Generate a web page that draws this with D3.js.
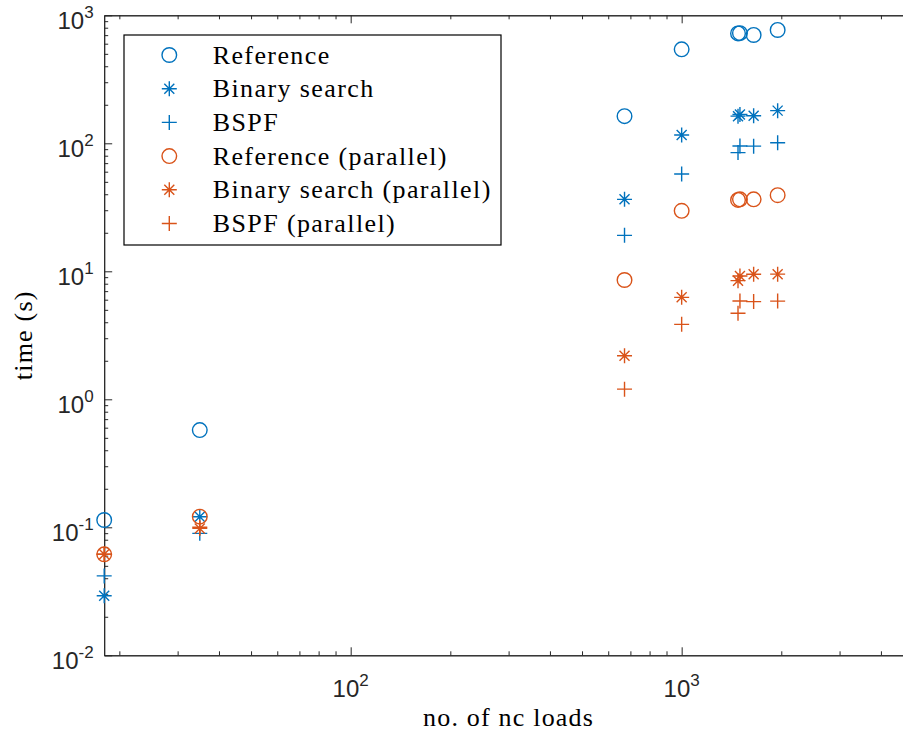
<!DOCTYPE html>
<html>
<head>
<meta charset="utf-8">
<script src="https://cdn.jsdelivr.net/npm/d3@7"></script>
<style>
  body { margin: 0; background: white; }
  svg { display: block; }
</style>
</head>
<body>
<script>

// no. of nc loads for each run
const loads = [18, 35, 672, 1000, 1480, 1500, 1650, 1950];

// timings in seconds
const reference      = [0.114, 0.575, 163, 542, 722, 725, 702, 768];
const binarySearch   = [0.0292, 0.121, 36.5, 116, 163, 168, 164, 180];
const bspf           = [0.0417, 0.0897, 19.1, 57.5, 84.6, 95.3, 95, 101];
const referencePar   = [0.0615, 0.121, 8.55, 29.7, 36.1, 36.5, 36.5, 39.3];
const binarySearchPar = [0.0615, 0.098, 2.19, 6.26, 8.45, 9.2, 9.48, 9.5];
const bspfPar        = [0.0615, 0.1, 1.2, 3.85, 4.7, 5.86, 5.8, 5.85];

const seriesNames = ["Reference", "Binary search", "BSPF",
  "Reference (parallel)", "Binary search (parallel)", "BSPF (parallel)"];

const xTicks = [1e2, 1e3];
const xExp = ["2", "3"];
const yTicks = [1e-2, 1e-1, 1e0, 1e1, 1e2, 1e3];
const yExp = ["-2", "-1", "0", "1", "2", "3"];

const blue = "#0072BD", orange = "#D95319";
const series = [
  { name: seriesNames[0], values: reference, marker: "o", color: blue },
  { name: seriesNames[1], values: binarySearch, marker: "*", color: blue },
  { name: seriesNames[2], values: bspf, marker: "+", color: blue },
  { name: seriesNames[3], values: referencePar, marker: "o", color: orange },
  { name: seriesNames[4], values: binarySearchPar, marker: "*", color: orange },
  { name: seriesNames[5], values: bspfPar, marker: "+", color: orange }
];

const svg = d3.select("body").append("svg")
  .attr("width", 903)
  .attr("height", 735);

const plotLeft = 104.2, plotRight = 913, plotTop = 15.3, plotBottom = 655.3;

const x = d3.scaleLog().domain([18, 5000]).range([plotLeft, plotRight]);
const y = d3.scaleLog().domain([1e-2, 1e3]).range([plotBottom, plotTop]);

// minor tick values
const xMinor = [];
[10, 100, 1000].forEach(d => { for (let k = 2; k <= 9; k++) if (d * k >= 18 && d * k <= 5000) xMinor.push(d * k); });
const yMinor = [];
[1e-2, 1e-1, 1, 10, 100].forEach(d => { for (let k = 2; k <= 9; k++) yMinor.push(d * k); });

const axisColor = "#262626";

function styleAxis(g) {
  g.selectAll("path, line").attr("stroke", axisColor).attr("stroke-width", 1);
  g.selectAll("text").remove();
}

svg.append("g").attr("transform", `translate(0,${plotBottom})`)
  .call(d3.axisBottom(x).tickValues(xTicks).tickSizeInner(-8).tickSizeOuter(0).tickFormat(""))
  .call(styleAxis);
svg.append("g").attr("transform", `translate(0,${plotBottom})`)
  .call(d3.axisBottom(x).tickValues(xMinor).tickSizeInner(-4).tickSizeOuter(0).tickFormat(""))
  .call(styleAxis);
svg.append("g").attr("transform", `translate(0,${plotTop})`)
  .call(d3.axisTop(x).tickValues(xTicks).tickSizeInner(-8).tickSizeOuter(0).tickFormat(""))
  .call(styleAxis);
svg.append("g").attr("transform", `translate(0,${plotTop})`)
  .call(d3.axisTop(x).tickValues(xMinor).tickSizeInner(-4).tickSizeOuter(0).tickFormat(""))
  .call(styleAxis);
svg.append("g").attr("transform", `translate(${plotLeft},0)`)
  .call(d3.axisLeft(y).tickValues(yTicks).tickSizeInner(-8).tickSizeOuter(0).tickFormat(""))
  .call(styleAxis);
svg.append("g").attr("transform", `translate(${plotLeft},0)`)
  .call(d3.axisLeft(y).tickValues(yMinor).tickSizeInner(-4).tickSizeOuter(0).tickFormat(""))
  .call(styleAxis);

// tick labels 10^n
const tickFont = "'Liberation Sans', Arial, Helvetica, sans-serif";

xTicks.forEach((t, i) => {
  const txt = svg.append("text")
    .attr("x", x(t)).attr("y", 697)
    .attr("text-anchor", "middle")
    .style("font-family", tickFont).style("font-size", "24px").attr("fill", axisColor);
  txt.append("tspan").text("10");
  txt.append("tspan").attr("dy", -11).style("font-size", "17px").text(xExp[i]);
});

yTicks.forEach((t, i) => {
  const txt = svg.append("text")
    .attr("x", plotLeft - 10.5).attr("y", y(t) + 14)
    .attr("text-anchor", "end")
    .style("font-family", tickFont).style("font-size", "24px").attr("fill", axisColor);
  txt.append("tspan").text("10");
  txt.append("tspan").attr("dy", -11).style("font-size", "17px").text(yExp[i]);
});

// axis labels
const serif = "'Liberation Serif', 'Times New Roman', serif";
svg.append("text")
  .attr("x", (plotLeft + plotRight) / 2).attr("y", 726)
  .attr("text-anchor", "middle")
  .style("font-family", serif).style("font-size", "26px").style("letter-spacing", "1.2px")
  .attr("fill", "black")
  .text("no. of nc loads");

svg.append("text")
  .attr("transform", `translate(32,${(plotTop + plotBottom) / 2}) rotate(-90)`)
  .attr("text-anchor", "middle")
  .style("font-family", serif).style("font-size", "26px").style("letter-spacing", "1.2px")
  .attr("fill", "black")
  .text("time (s)");

// markers
function drawMarker(g, type, color) {
  if (type === "o") {
    g.append("circle").attr("r", 7.3)
      .attr("fill", "none").attr("stroke", color).attr("stroke-width", 1.4);
  } else {
    const r = 7.5;
    g.append("path")
      .attr("d", `M${-r},0H${r}M0,${-r}V${r}` + (type === "*" ? `M-5,-5L5,5M-5,5L5,-5` : ""))
      .attr("fill", "none").attr("stroke", color).attr("stroke-width", 1.4);
  }
}

series.forEach(s => {
  svg.append("g").selectAll("g")
    .data(loads.map((l, i) => [l, s.values[i]]))
    .join("g")
    .attr("transform", d => `translate(${x(d[0])},${y(d[1])})`)
    .each(function() { drawMarker(d3.select(this), s.marker, s.color); });
});

// legend
const legend = svg.append("g");
legend.append("rect")
  .attr("x", 124).attr("y", 35).attr("width", 377).attr("height", 210)
  .attr("fill", "white").attr("stroke", "black").attr("stroke-width", 1.2);

series.forEach((s, i) => {
  const cy = 55 + i * 33.7;
  const g = legend.append("g").attr("transform", `translate(169.3,${cy})`);
  drawMarker(g, s.marker, s.color);
  legend.append("text")
    .attr("x", 212.7).attr("y", cy + 8.5)
    .style("font-family", serif).style("font-size", "26px").style("letter-spacing", "1.4px")
    .attr("fill", "black")
    .text(s.name);
});

</script>
</body>
</html>
